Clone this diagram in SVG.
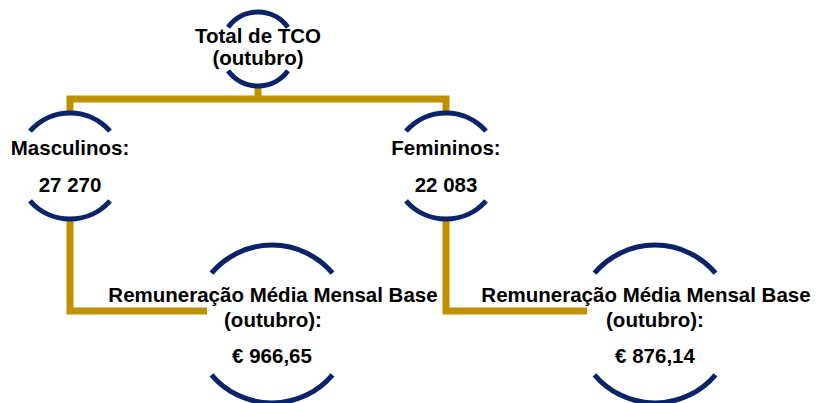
<svg xmlns="http://www.w3.org/2000/svg" width="828" height="403" viewBox="0 0 828 403">
  <style>
    .arc { fill: none; stroke: #0B2468; stroke-width: 5; }
    .conn { fill: none; stroke: #BF9000; stroke-width: 7; stroke-linejoin: miter; }
    .t { font-family: "Liberation Sans", Arial, sans-serif; font-weight: bold; font-size: 20.5px; fill: #000; text-anchor: middle; }
  </style>
  <rect width="828" height="403" fill="#fff"/>
  <g id="connectors">
    <path class="conn" d="M258,84 V99"/>
    <path class="conn" d="M70,113 V99 H446 V113"/>
    <path class="conn" d="M70,218 V311 H207"/>
    <path class="conn" d="M446,218 V311 H587"/>
  </g>
  <g id="node-total">
    <path class="arc" d="M228.1,27.2 A37,37 0 0 1 287.9,27.2"/>
    <path class="arc" d="M228.1,70.8 A37,37 0 0 0 287.9,70.8"/>
    <text class="t" x="258" y="43">Total de TCO</text>
    <text class="t" x="258" y="65">(outubro)</text>
  </g>
  <g id="node-masculinos">
    <path class="arc" d="M30,131.2 A53,53 0 0 1 110,131.2"/>
    <path class="arc" d="M30,200.8 A53,53 0 0 0 110,200.8"/>
    <text class="t" x="70" y="155">Masculinos:</text>
    <text class="t" x="70" y="192">27 270</text>
  </g>
  <g id="node-femininos">
    <path class="arc" d="M406,131.2 A53,53 0 0 1 486,131.2"/>
    <path class="arc" d="M406,200.8 A53,53 0 0 0 486,200.8"/>
    <text class="t" x="446" y="155">Femininos:</text>
    <text class="t" x="446" y="192">22 083</text>
  </g>
  <g id="node-rem-masc">
    <path class="arc" d="M211.5,273.2 A79,79 0 0 1 332.5,273.2"/>
    <path class="arc" d="M211.5,374.8 A79,79 0 0 0 332.5,374.8"/>
    <text class="t" x="273" y="302">Remuneração Média Mensal Base</text>
    <text class="t" x="273" y="327">(outubro):</text>
    <text class="t" x="272" y="363">€ 966,65</text>
  </g>
  <g id="node-rem-fem">
    <path class="arc" d="M594.5,273.2 A79,79 0 0 1 715.5,273.2"/>
    <path class="arc" d="M594.5,374.8 A79,79 0 0 0 715.5,374.8"/>
    <text class="t" x="646" y="302">Remuneração Média Mensal Base</text>
    <text class="t" x="655" y="327">(outubro):</text>
    <text class="t" x="655" y="363">€ 876,14</text>
  </g>
</svg>
